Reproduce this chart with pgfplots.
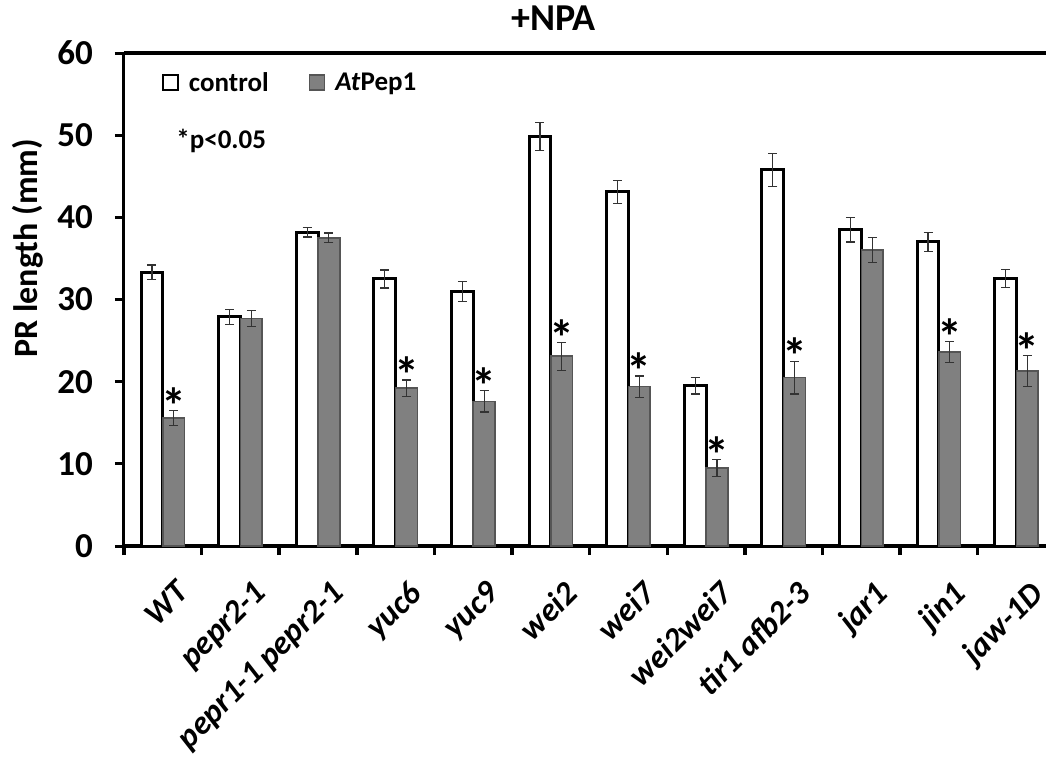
\documentclass[border=0pt]{standalone}
\usepackage{fontspec}
\setmainfont{Carlito}
\usepackage{pgfplots}
\pgfplotsset{compat=1.18}
\usepackage{pgfplotstable}

\pgfplotstableread{
x ctrl ctrlerr pep peperr
0  33.3 0.9 15.6 0.9
1  27.9 0.9 27.7 1.0
2  38.2 0.6 37.5 0.6
3  32.5 1.1 19.2 1.0
4  31.0 1.2 17.6 1.3
5  49.8 1.7 23.1 1.7
6  43.1 1.4 19.4 1.3
7  19.5 1.0 9.5  1.0
8  45.8 2.0 20.5 2.0
9  38.5 1.5 36.0 1.5
10 37.0 1.2 23.6 1.3
11 32.6 1.1 21.3 1.9
}\data

\pgfplotstableread{
x y
0.14  16.5
3.14  20.2
4.14  18.9
5.14  24.8
6.14  20.7
7.14  10.5
8.14  22.5
10.14 24.9
11.14 23.2
}\stars

\definecolor{pepgray}{RGB}{128,128,128}
\definecolor{pepedge}{RGB}{85,85,85}

\begin{document}
\begin{tikzpicture}
\begin{axis}[
  scale only axis, width=922pt, height=493pt,
  xmin=-0.5, xmax=11.38, ymin=0, ymax=60,
  axis x line*=bottom, axis y line*=left,
  x axis line style={-, line width=4pt, black},
  y axis line style={-, line width=3pt, black},
  tick align=outside,
  ytick={0,10,...,60},
  ytick style={line width=3pt, black},
  major tick length=9pt,
  xtick={-0.5,0.5,...,10.5},
  xticklabels={},
  xtick style={line width=3.5pt, black},
  extra x ticks={0,1,...,11},
  extra x tick labels={WT,pepr2-1,pepr1-1 pepr2-1,yuc6,yuc9,wei2,wei7,wei2wei7,tir1 afb2-3,jar1,jin1,jaw-1D},
  extra x tick style={major tick length=0pt,
    xticklabel style={xshift=12pt, yshift=-33pt, rotate=45, anchor=north east, inner sep=0pt,
      font=\fontsize{33}{38}\selectfont\bfseries\itshape}},
  extra y ticks={60}, extra y tick labels={},
  extra y tick style={grid=major, major grid style={black, line width=4.5pt}},
  yticklabel style={anchor=east, inner sep=0pt, xshift=-22pt, font=\fontsize{35}{40}\selectfont\bfseries},
  /pgf/number format/assume math mode=true,
  ylabel={PR length (mm)},
  every axis y label/.style={at={(axis description cs:-0.0933,0.604)}, rotate=90, anchor=base,
     font=\fontsize{34}{40}\selectfont\bfseries},
  title={+NPA},
  title style={at={(axis description cs:0.466,1.0325)}, anchor=base, inner sep=0pt,
     font=\fontsize{38}{44}\selectfont\bfseries},
  legend columns=2,
  legend style={at={(axis description cs:0.0412,0.940)}, anchor=west, draw=none, fill=none,
    inner sep=0pt, font=\fontsize{27}{32}\selectfont\bfseries,
    nodes={inner sep=0pt},
    /tikz/every odd column/.append style={column sep=10pt},
    /tikz/every even column/.append style={column sep=40pt}},
  legend image code/.code={\draw[#1, line width=1.8pt] (0pt,-7.5pt) rectangle (15pt,7.5pt);},
  error bars/error bar style={line width=1.2pt, black!80},
  error bars/error mark options={rotate=90, mark size=4.5pt, line width=1.2pt, black!80},
]
\addplot[ybar, bar width=0.28, bar shift=0, fill=white, draw=black, line width=3pt,
  error bars/.cd, y dir=both, y explicit]
  table[x expr=\thisrow{x}-0.14, y=ctrl, y error=ctrlerr]{\data};
\addlegendentry{control}
\addplot[ybar, bar width=0.28, bar shift=0, fill=pepgray, draw=pepedge, line width=1.5pt,
  error bars/.cd, y dir=both, y explicit]
  table[x expr=\thisrow{x}+0.14, y=pep, y error=peperr]{\data};
\addlegendentry{\textit{At}Pep1}
\addplot[draw=none, mark=none, forget plot,
  nodes near coords={*},
  every node near coord/.style={anchor=south, inner sep=0pt, yshift=-13pt,
     font=\fontsize{50}{52}\selectfont\bfseries}]
  table[x=x, y=y]{\stars};
\node[anchor=base west, font=\fontsize{27}{32}\selectfont\bfseries] at (axis description cs:0.053,0.807) {*p<0.05};
\end{axis}
\pgfresetboundingbox
\path[use as bounding box] (-124pt,-218pt) rectangle (922pt,546pt);
\end{tikzpicture}
\end{document}
